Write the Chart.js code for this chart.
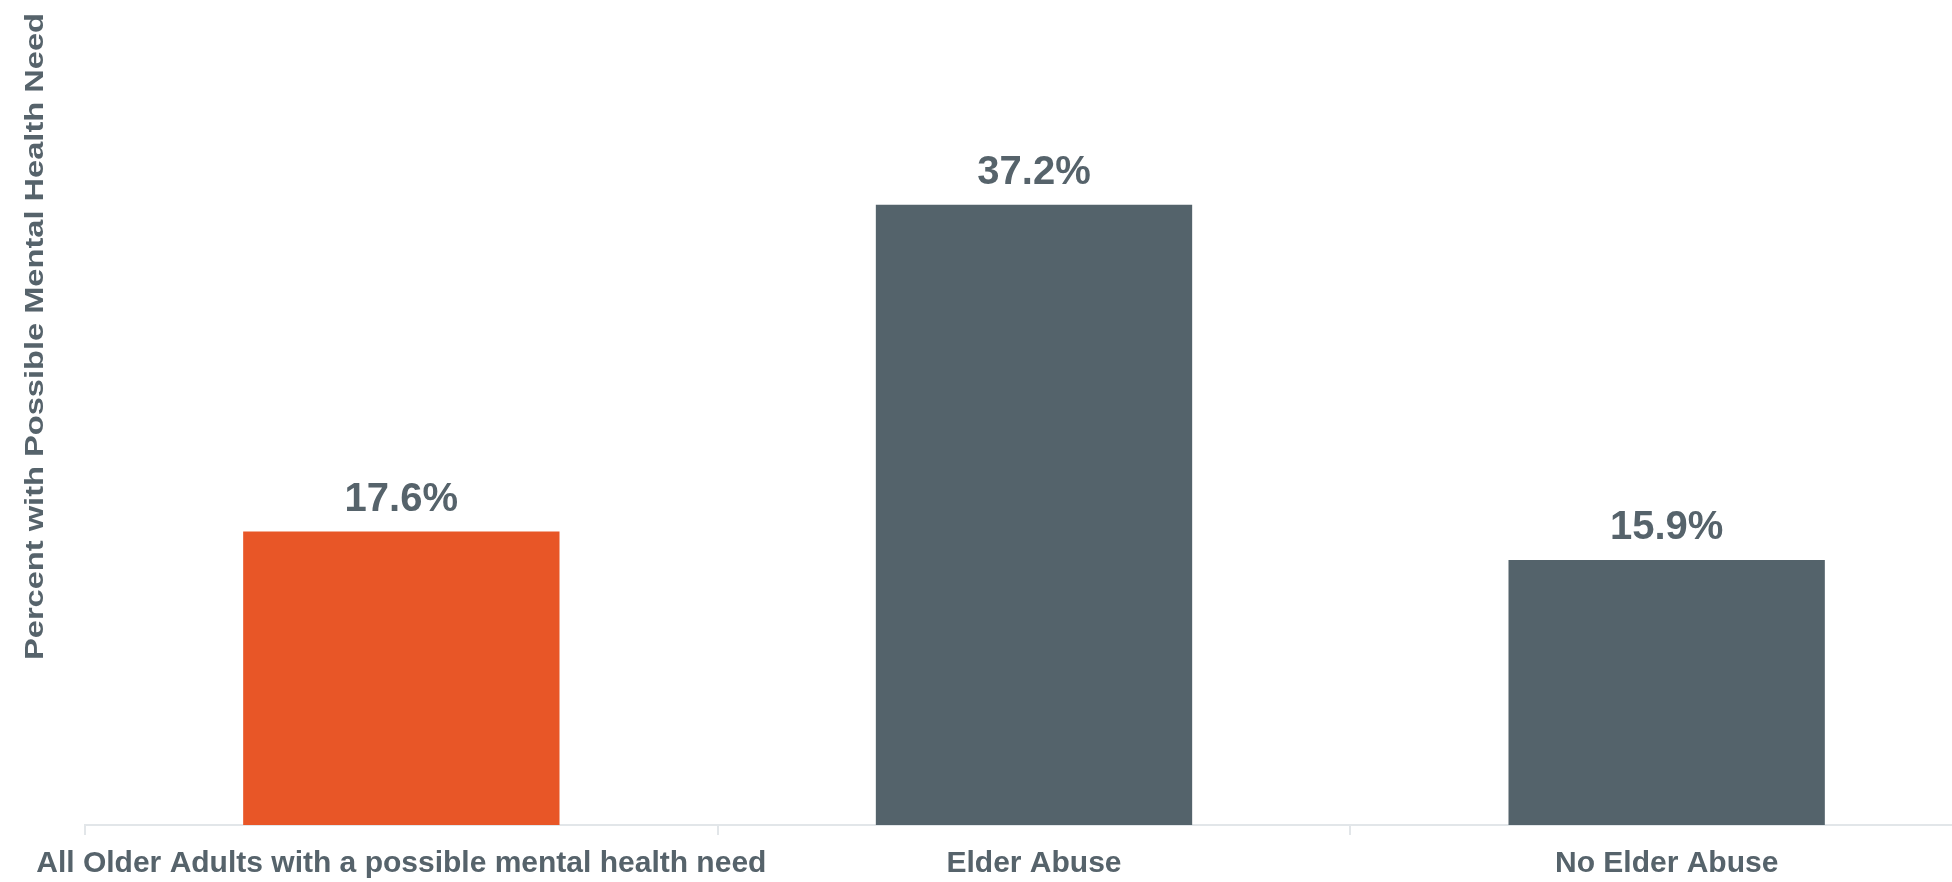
<!DOCTYPE html>
<html lang="en">
<head>
    <meta charset="UTF-8">
    <title>Possible Mental Health Need</title>
    <script src="https://cdn.jsdelivr.net/npm/chart.js"></script>
    <style>
        html, body { margin: 0; padding: 0; overflow: hidden; background: #fff; }
    </style>
</head>
<body>
    <canvas id="needChart" width="1990" height="882"></canvas>

    <script>
        // data
        const categories = ['All Older Adults with a possible mental health need', 'Elder Abuse', 'No Elder Abuse'];
        const percents = [17.6, 37.2, 15.9];
        const barColors = ['#E85627', '#54636B', '#54636B'];
        const yTitle = 'Percent with Possible Mental Health Need';

        const textColor = '#56636B';
        const fontFamily = '"Liberation Sans", Arial, Helvetica, sans-serif';

        // value labels above the bars
        const valueLabels = {
            id: 'valueLabels',
            afterDatasetsDraw(chart) {
                const ctx = chart.ctx;
                ctx.save();
                ctx.font = 'bold 40px ' + fontFamily;
                ctx.fillStyle = textColor;
                ctx.textAlign = 'center';
                ctx.textBaseline = 'alphabetic';
                chart.getDatasetMeta(0).data.forEach((bar, i) => {
                    ctx.fillText(percents[i].toFixed(1) + '%', bar.x, bar.y - 21);
                });
                ctx.restore();
            }
        };

        // the y title is a bit stretched along its length in the original
        const stretchedTitle = {
            id: 'stretchedTitle',
            afterDraw(chart) {
                const ctx = chart.ctx;
                const top = chart.chartArea.top;
                ctx.save();
                ctx.font = 'bold 25px ' + fontFamily;
                ctx.fillStyle = textColor;
                ctx.translate(43, top);
                ctx.rotate(-Math.PI / 2);
                ctx.textAlign = 'right';
                ctx.textBaseline = 'alphabetic';
                const w = ctx.measureText(yTitle).width;
                ctx.scale(647 / w, 1);
                ctx.fillText(yTitle, 0, 0);
                ctx.restore();
            }
        };

        const ctx = document.getElementById('needChart').getContext('2d');
        new Chart(ctx, {
            type: 'bar',
            data: {
                labels: categories,
                datasets: [{
                    data: percents,
                    backgroundColor: barColors,
                    borderWidth: 0,
                    categoryPercentage: 1,
                    barPercentage: 0.5
                }]
            },
            options: {
                responsive: false,
                animation: false,
                layout: { padding: { left: 85, right: 7, top: 13, bottom: 0 } },
                plugins: {
                    legend: { display: false },
                    tooltip: { enabled: false }
                },
                scales: {
                    x: {
                        afterFit(scale) { scale.height = 57; },
                        border: { color: '#E2E6E9', width: 2 },
                        grid: {
                            offset: true,
                            drawOnChartArea: false,
                            tickLength: 10,
                            color: '#E2E6E9',
                            lineWidth: 2
                        },
                        ticks: {
                            padding: 11,
                            color: textColor,
                            maxRotation: 0,
                            autoSkip: false,
                            font: { family: fontFamily, size: 30, weight: 'bold' }
                        }
                    },
                    y: {
                        display: false,
                        min: 0,
                        max: 48.7
                    }
                }
            },
            plugins: [valueLabels, stretchedTitle]
        });
    </script>
</body>
</html>
